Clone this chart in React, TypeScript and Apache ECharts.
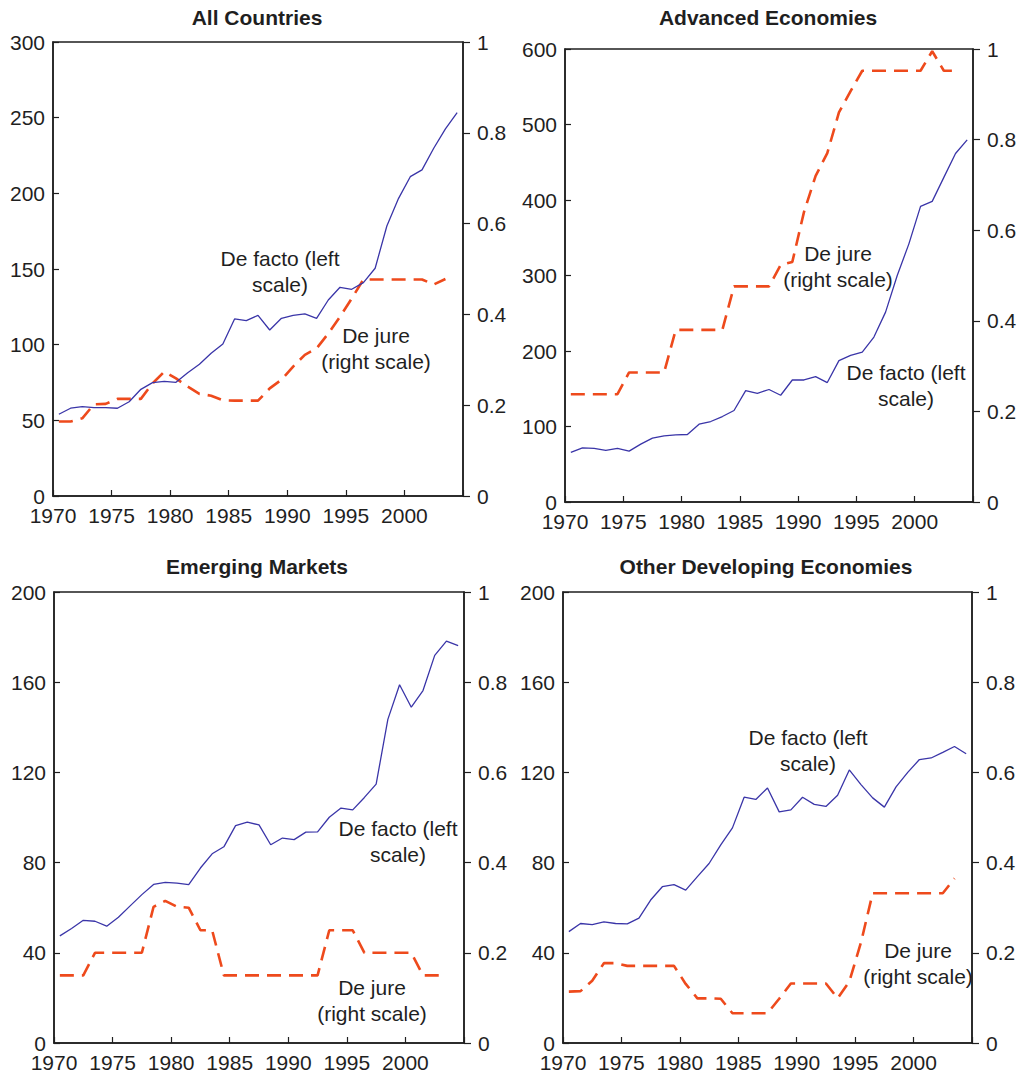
import React, { useEffect, useRef } from "react";
import * as echarts from "echarts";

const years = Array.from({ length: 35 }, (_, i) => 1970 + i);

const titles = ["All Countries", "Advanced Economies", "Emerging Markets", "Other Developing Economies"];

// De facto (left scale)
const allFacto = [54, 58, 59, 58.4, 58.4, 58, 62.3, 70.5, 74.9, 75.8, 75.1, 81.5, 87, 94.3, 100.5, 117, 115.9, 119.4, 109.7, 117.4, 119.4, 120.3, 117.4, 129.5, 137.9, 136.6, 141, 150.5, 178.4, 196.7, 211, 215.5, 229.8, 242.6, 253.4];
const advFacto = [65.7, 71.8, 71, 68.3, 71, 67.4, 76.6, 84.6, 87.7, 89, 89.4, 103, 106.6, 113.2, 121.2, 147.6, 144, 149, 141.4, 161.6, 161.6, 166, 158.2, 187.3, 194.3, 198.6, 218.5, 251.5, 300, 341.9, 391.6, 398.2, 430, 461.6, 479.7];
const emFacto = [47.5, 50.8, 54.4, 54, 51.8, 55.8, 60.8, 65.8, 70.3, 71.2, 70.9, 70.2, 77.6, 83.9, 87, 96.4, 97.9, 96.7, 87.9, 90.9, 90.2, 93.5, 93.6, 100.1, 104.2, 103.4, 108.9, 114.8, 143.5, 158.9, 148.9, 156.3, 171.9, 178.2, 176.2];
const odFacto = [49.4, 53, 52.5, 53.7, 53, 52.8, 55.4, 63.4, 69.3, 70.2, 67.8, 73.8, 79.6, 87.9, 95.4, 109, 108, 113.1, 102.5, 103.4, 109, 105.8, 104.9, 109.9, 121.1, 114.6, 108.7, 104.6, 113.6, 120, 125.7, 126.4, 128.9, 131.5, 128.3];

// De jure (right scale)
const allJure = [0.164, 0.164, 0.171, 0.202, 0.203, 0.214, 0.214, 0.214, 0.248, 0.274, 0.259, 0.241, 0.225, 0.221, 0.211, 0.21, 0.21, 0.21, 0.237, 0.256, 0.285, 0.311, 0.325, 0.358, 0.395, 0.435, 0.477, 0.477, 0.477, 0.477, 0.477, 0.477, 0.466, 0.478];
const advJure = [0.238, 0.238, 0.238, 0.238, 0.238, 0.286, 0.286, 0.286, 0.286, 0.38, 0.38, 0.38, 0.38, 0.38, 0.476, 0.476, 0.476, 0.476, 0.523, 0.53, 0.64, 0.72, 0.77, 0.86, 0.907, 0.952, 0.952, 0.952, 0.952, 0.952, 0.952, 0.995, 0.952, 0.952];
const emJure = [0.15, 0.15, 0.15, 0.2, 0.2, 0.2, 0.2, 0.2, 0.302, 0.315, 0.302, 0.3, 0.25, 0.25, 0.15, 0.15, 0.15, 0.15, 0.15, 0.15, 0.15, 0.15, 0.15, 0.25, 0.25, 0.25, 0.2, 0.2, 0.2, 0.2, 0.2, 0.15, 0.15, 0.15];
const odJure = [0.114, 0.115, 0.138, 0.177, 0.177, 0.171, 0.171, 0.171, 0.171, 0.171, 0.131, 0.099, 0.099, 0.098, 0.066, 0.066, 0.066, 0.066, 0.098, 0.132, 0.132, 0.132, 0.132, 0.099, 0.136, 0.223, 0.332, 0.332, 0.332, 0.332, 0.332, 0.332, 0.332, 0.365];

const leftMax = [300, 600, 200, 200];
const leftInterval = [50, 100, 40, 40];
const facto = [allFacto, advFacto, emFacto, odFacto];
const jure = [allJure, advJure, emJure, odJure];

const grids = [
  { left: 53, top: 42, width: 410, height: 454 },
  { left: 565, top: 49, width: 408, height: 453 },
  { left: 54, top: 592, width: 410, height: 453 },
  { left: 563, top: 592, width: 409, height: 452 },
];

const titlePos = [
  [257, 17],
  [768, 17],
  [257, 566],
  [766, 566],
];

// annotation [text, x, y]
const notes: [string, number, number][] = [
  ["De facto (left\nscale)", 280, 271],
  ["De jure\n(right scale)", 376, 348],
  ["De jure\n(right scale)", 838, 266],
  ["De facto (left\nscale)", 906, 385],
  ["De facto (left\nscale)", 398, 841],
  ["De jure\n(right scale)", 372, 1000],
  ["De facto (left\nscale)", 808, 750],
  ["De jure\n(right scale)", 918, 963],
];

const FONT = "'Liberation Sans', Arial, Helvetica, sans-serif";
const INK = "#1f1f1f";
const BLUE = "#3a35a8";
const RED = "#ee4a1c";

export default function App() {
  const ref = useRef<HTMLDivElement>(null);
  useEffect(() => {
    document.body.style.margin = "0";
    const chart = echarts.init(ref.current!, undefined, { renderer: "svg" });
    const axisLine = { show: true, lineStyle: { color: INK, width: 1.5 } };
    const labelStyle = { color: INK, fontSize: 21, fontFamily: FONT, lineHeight: 17 };
    const xAxis: any[] = [];
    const yAxis: any[] = [];
    const series: any[] = [];
    grids.forEach((g, k) => {
      xAxis.push({
        type: "value",
        gridIndex: k,
        min: 1970,
        max: 2005,
        interval: 5,
        axisLine,
        axisTick: { show: true, inside: true, length: 6, lineStyle: { color: INK, width: 1.2 } },
        axisLabel: { ...labelStyle, margin: 11, formatter: (v: number) => (v === 2005 ? "" : String(v)) },
        splitLine: { show: false },
      });
      yAxis.push({
        type: "value",
        gridIndex: k,
        position: "left",
        min: 0,
        max: leftMax[k],
        interval: leftInterval[k],
        axisLine,
        axisTick: { show: true, inside: true, length: 6, lineStyle: { color: INK, width: 1.2 } },
        axisLabel: { ...labelStyle, margin: 8 },
        splitLine: { show: false },
      });
      yAxis.push({
        type: "value",
        gridIndex: k,
        position: "right",
        min: 0,
        max: 1,
        interval: 0.2,
        axisLine,
        axisTick: { show: true, inside: false, length: 7, lineStyle: { color: INK, width: 1.2 } },
        axisLabel: { ...labelStyle, margin: 14, formatter: (v: number) => (v === 0 || v === 1 ? String(v) : v.toFixed(1)) },
        splitLine: { show: false },
      });
      series.push({
        type: "line",
        xAxisIndex: k,
        yAxisIndex: 2 * k + 1,
        data: jure[k].map((v, i) => [years[i] + 0.5, v]),
        showSymbol: false,
        lineStyle: { color: RED, width: 2.6, type: [14, 8] },
        z: 2,
      });
      series.push({
        type: "line",
        xAxisIndex: k,
        yAxisIndex: 2 * k,
        data: facto[k].map((v, i) => [years[i] + 0.5, v]),
        showSymbol: false,
        lineStyle: { color: BLUE, width: 1.3 },
        z: 3,
      });
    });
    const graphic: any[] = [];
    titles.forEach((t, k) => {
      graphic.push({
        type: "text",
        x: titlePos[k][0],
        y: titlePos[k][1],
        style: { text: t, fill: INK, font: `bold 21px ${FONT}`, textAlign: "center", textVerticalAlign: "middle" },
      });
    });
    notes.forEach(([t, x, y]) => {
      graphic.push({
        type: "text",
        x,
        y,
        z: 10,
        style: { text: t, fill: INK, font: `21px ${FONT}`, textAlign: "center", textVerticalAlign: "middle", lineHeight: 26 },
      });
    });
    chart.setOption({
      animation: false,
      backgroundColor: "#ffffff",
      grid: grids.map((g) => ({ ...g, show: true, borderColor: INK, borderWidth: 1.5, backgroundColor: "transparent" })),
      xAxis,
      yAxis,
      series,
      graphic,
    });
    return () => chart.dispose();
  }, []);
  return <div ref={ref} style={{ width: 1022, height: 1073 }} />;
}
